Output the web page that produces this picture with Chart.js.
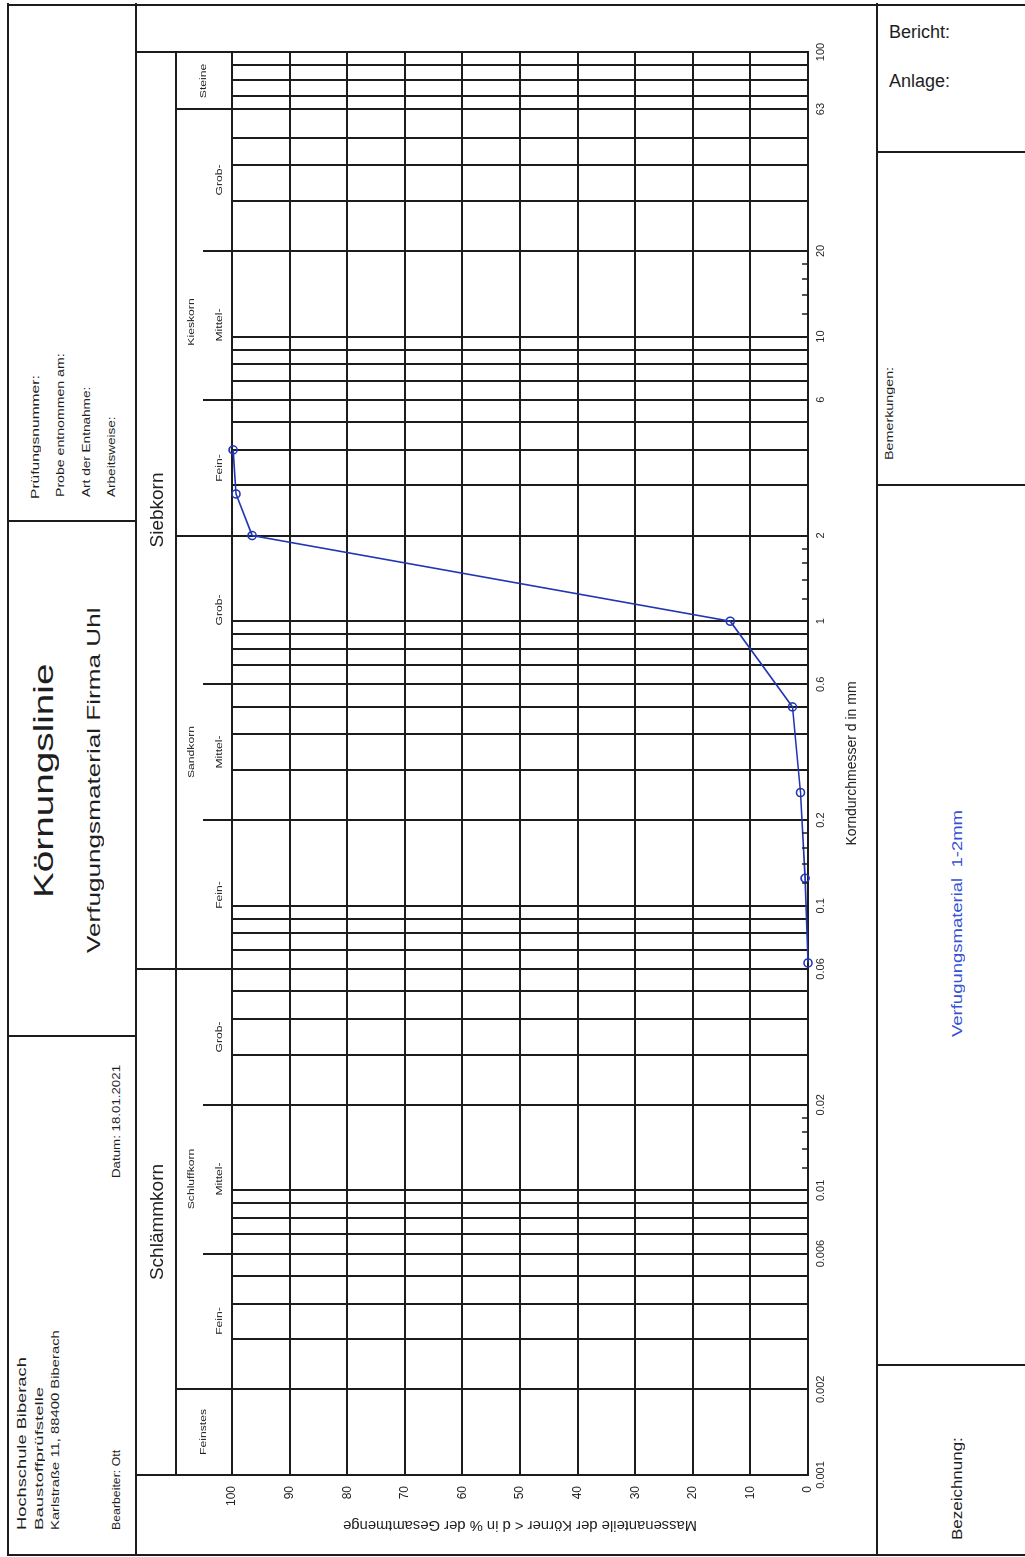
<!DOCTYPE html>
<html>
<head>
<meta charset="utf-8">
<title>Körnungslinie</title>
<script src="https://cdn.jsdelivr.net/npm/chart.js@4.4.0/dist/chart.umd.min.js"></script>
<style>
  html, body { margin: 0; padding: 0; width: 1025px; height: 1557px; overflow: hidden; background: #fff; }
  /* the sheet is laid out in landscape and turned onto the portrait page */
  #sheet {
    position: absolute; left: 0; top: 0; width: 1557px; height: 1025px;
    transform-origin: 0 0; transform: translate(0, 1557px) rotate(-90deg);
    font-family: "Liberation Sans", Arial, sans-serif; color: #1e1e1e;
  }
  .h { position: absolute; height: 2px; background: #1c1c1c; }
  .v { position: absolute; width: 2px; background: #1c1c1c; }
  .t { position: absolute; white-space: nowrap; line-height: 1; transform-origin: 0 50%; }
  .p { position: absolute; white-space: nowrap; line-height: 1; font-family: "Liberation Sans", Arial, sans-serif; color: #1e1e1e; }
</style>
</head>
<body>
<div id="sheet">
  <canvas id="chart" width="1557" height="741" style="position:absolute;left:0;top:136px"></canvas>

  <!-- frame -->
  <div class="h" style="left:1px;top:7px;width:1553px"></div>
  <div class="h" style="left:1px;top:135px;width:1553px"></div>
  <div class="h" style="left:1px;top:876px;width:1553px"></div>
  <div class="v" style="left:1px;top:7px;height:1020px"></div>
  <div class="v" style="left:1551px;top:7px;height:1020px"></div>
  <div class="v" style="left:520px;top:8px;height:128px"></div>
  <div class="v" style="left:1035px;top:8px;height:128px"></div>
  <div class="v" style="left:191px;top:877px;height:150px"></div>
  <div class="v" style="left:1071px;top:877px;height:150px"></div>
  <div class="v" style="left:1404px;top:877px;height:150px"></div>

  <!-- header: sample data -->
  <div class="t" data-len="123" style="left:1058px;top:31px;font-size:10px">Prüfungsnummer:</div>
  <div class="t" data-len="144" style="left:1060px;top:56px;font-size:10px">Probe entnommen am:</div>
  <div class="t" data-len="110" style="left:1060px;top:82px;font-size:10px">Art der Entnahme:</div>
  <div class="t" data-len="80"  style="left:1060px;top:107px;font-size:10px">Arbeitsweise:</div>

  <!-- header: title -->
  <div class="t" data-len="235" style="left:659px;top:30px;font-size:28px">Körnungslinie</div>
  <div class="t" data-len="345" style="left:604px;top:84px;font-size:19px">Verfugungsmaterial Firma Uhl</div>

  <!-- header: laboratory -->
  <div class="t" data-len="173" style="left:27px;top:15px;font-size:13px">Hochschule Biberach</div>
  <div class="t" data-len="143" style="left:27px;top:35px;font-size:10px">Baustoffprüfstelle</div>
  <div class="t" data-len="200" style="left:27px;top:51px;font-size:10px">Karlstraße 11, 88400 Biberach</div>
  <div class="t" data-len="80"  style="left:27px;top:112px;font-size:10px">Bearbeiter: Ott</div>
  <div class="t" data-len="113" style="left:379px;top:112px;font-size:10px">Datum: 18.01.2021</div>

  <!-- footer column -->
  <div class="t" data-len="93"  style="left:1097px;top:885px;font-size:10px">Bemerkungen:</div>
  <div class="t" data-len="227" style="left:520px;top:950px;font-size:14px;color:#3452d6">Verfugungsmaterial&nbsp;&nbsp;1-2mm</div>
  <div class="t" data-len="103" style="left:17px;top:950px;font-size:14px">Bezeichnung:</div>
</div>

<div class="p" style="left:889px;top:23px;font-size:18px">Bericht:</div>
<div class="p" style="left:889px;top:72px;font-size:18px">Anlage:</div>

<script>
// sieve analysis: diameter in mm and mass passing in %
const sieveSizes     = [0.063, 0.125, 0.25, 0.5, 1, 2, 2.8, 4];
const passingPercent = [0, 0.5, 1.3, 2.7, 13.5, 96.5, 99.3, 99.8];

// grain diameter grid (mm): full lines and short inner marks
const gridDiameters = [
  0.001, 0.002, 0.003, 0.004, 0.005, 0.006, 0.007, 0.008, 0.009,
  0.01, 0.02, 0.03, 0.04, 0.05, 0.06, 0.07, 0.08, 0.09,
  0.1, 0.2, 0.3, 0.4, 0.5, 0.6, 0.7, 0.8, 0.9,
  1, 2, 3, 4, 5, 6, 7, 8, 9,
  10, 20, 30, 40, 50, 63, 70, 80, 90, 100
];
const minorDiameters = [
  0.012, 0.014, 0.016, 0.018,
  0.12, 0.14, 0.16, 0.18,
  1.2, 1.4, 1.6, 1.8,
  12, 14, 16, 18
];
const diameterLabels = ['0.001', '0.002', '0.006', '0.01', '0.02', '0.06', '0.1', '0.2', '0.6', '1', '2', '6', '10', '20', '63', '100'];
const percentTicks = [0, 10, 20, 30, 40, 50, 60, 70, 80, 90, 100];

// soil fraction bands
const mainBandNames  = ['Schlämmkorn', 'Siebkorn'];
const mainBandBounds = [0.001, 0.06, 100];
const groupNames     = ['Feinstes', 'Schluffkorn', 'Sandkorn', 'Kieskorn', 'Steine'];
const groupBounds    = [0.001, 0.002, 0.06, 2, 63, 100];
const subNames       = ['Fein-', 'Mittel-', 'Grob-'];
const subBounds      = [
  [0.002, 0.006, 0.02, 0.06],
  [0.06, 0.2, 0.6, 2],
  [2, 6, 20, 63]
];

const INK = '#1c1c1c';
const FONT = '"Liberation Sans", Arial, sans-serif';

function sameValue(a, b) { return Math.abs(Math.log10(a) - Math.log10(b)) < 1e-6; }

function stretchedText(ctx, text, cx, cy, size, sx) {
  ctx.save();
  ctx.font = size + 'px ' + FONT;
  ctx.translate(cx, cy);
  ctx.scale(sx, 1);
  ctx.textAlign = 'center';
  ctx.textBaseline = 'middle';
  ctx.fillText(text, 0, 0);
  ctx.restore();
}

const bandPlugin = {
  id: 'bands',
  afterDraw(chart) {
    const { ctx, chartArea: a, scales: { x } } = chart;
    const px = v => Math.round(x.getPixelForValue(v));
    const mid = v1 => px(v1);
    const logMid = (v1, v2) => Math.round(x.getPixelForValue(Math.sqrt(v1 * v2)));
    const rowGroup = a.top - 56;   // top of the fraction row
    const rowSub = a.top - 29;     // start of the sub-division marks

    ctx.save();
    ctx.strokeStyle = INK;
    ctx.lineWidth = 2;
    const seg = (x1, y1, x2, y2) => { ctx.beginPath(); ctx.moveTo(x1, y1); ctx.lineTo(x2, y2); ctx.stroke(); };

    seg(a.left, 0, a.left, a.top);
    seg(a.right, 0, a.right, a.top);
    seg(a.left, rowGroup, a.right, rowGroup);
    mainBandBounds.slice(1, -1).forEach(b => seg(px(b), 0, px(b), a.top));
    groupBounds.slice(1, -1).forEach(b => seg(px(b), rowGroup, px(b), a.top));
    subBounds.forEach(list => list.slice(1, -1).forEach(b => seg(px(b), rowSub, px(b), a.top)));

    // short inner marks along the diameter axis
    ctx.lineWidth = 1.5;
    minorDiameters.forEach(v => seg(px(v), a.bottom, px(v), a.bottom - 6));

    ctx.fillStyle = '#222';
    mainBandNames.forEach((n, i) => {
      stretchedText(ctx, n, logMid(mainBandBounds[i], mainBandBounds[i + 1]), 22, 19, 1);
    });
    groupNames.forEach((n, i) => {
      const cx = logMid(groupBounds[i], groupBounds[i + 1]);
      const single = (i === 0 || i === groupNames.length - 1);
      stretchedText(ctx, n, cx, single ? 68 : 56, 9, 1.35);
    });
    subBounds.forEach(list => {
      subNames.forEach((n, j) => {
        stretchedText(ctx, n, logMid(list[j], list[j + 1]), 84, 9, 1.35);
      });
    });
    ctx.restore();
  }
};

const points = sieveSizes.map((d, i) => ({ x: d, y: passingPercent[i] }));

new Chart(document.getElementById('chart'), {
  type: 'scatter',
  data: {
    datasets: [{
      data: points,
      showLine: true,
      clip: false,
      borderColor: '#2236b4',
      borderWidth: 1.6,
      pointRadius: 4,
      pointBorderWidth: 1.6,
      pointBorderColor: '#2236b4',
      pointBackgroundColor: 'rgba(0,0,0,0)',
      tension: 0
    }]
  },
  options: {
    responsive: false,
    animation: false,
    devicePixelRatio: 1,
    layout: { padding: { left: 0, right: 52, top: 96, bottom: 0 } },
    plugins: { legend: { display: false }, tooltip: { enabled: false } },
    scales: {
      x: {
        type: 'logarithmic',
        position: 'bottom',
        min: 0.001,
        max: 100,
        afterBuildTicks: s => { s.ticks = gridDiameters.map(v => ({ value: v })); },
        afterFit: s => { s.height = 69; },
        grid: { color: INK, lineWidth: 2, drawTicks: false },
        border: { display: true, color: INK, width: 2 },
        ticks: {
          autoSkip: false, maxRotation: 0, minRotation: 0, padding: 6,
          color: '#222', font: { family: FONT, size: 11 },
          callback: v => diameterLabels.find(t => sameValue(+t, v)) || ''
        },
        title: {
          display: true, text: 'Korndurchmesser d in mm', color: '#222',
          font: { family: FONT, size: 14 }, padding: { top: 0, bottom: 16 }
        }
      },
      y: {
        min: 0,
        max: 100,
        afterBuildTicks: s => { s.ticks = percentTicks.map(v => ({ value: v })); },
        afterFit: s => { s.width = 82; },
        grid: { color: INK, lineWidth: 2, drawTicks: false },
        border: { display: true, color: INK, width: 2 },
        ticks: { padding: 11, color: '#222', font: { family: FONT, size: 12 } },
        title: {
          display: true, text: 'Massenanteile der Körner < d in % der Gesamtmenge', color: '#222',
          font: { family: FONT, size: 14.8 }, padding: { top: 23, bottom: 0 }
        }
      }
    }
  },
  plugins: [bandPlugin]
});

// stretch the form texts to their printed lengths
document.querySelectorAll('#sheet .t').forEach(el => {
  const len = +el.dataset.len;
  const w = el.getBoundingClientRect ? el.offsetWidth : 0;
  if (len && w) el.style.transform = 'scaleX(' + (len / w).toFixed(3) + ')';
});
</script>
</body>
</html>
